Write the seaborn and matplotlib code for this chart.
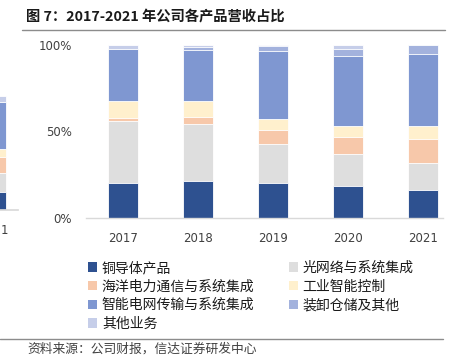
import numpy as np
import pandas as pd
import matplotlib
matplotlib.use("Agg")
import matplotlib.pyplot as plt
import seaborn as sns
from matplotlib.patches import Patch
from matplotlib.lines import Line2D

# ---------------- data ----------------
years = ["2017", "2018", "2019", "2020", "2021"]
series_names = ["铜导体产品", "光网络与系统集成", "海洋电力通信与系统集成", "工业智能控制",
                "智能电网传输与系统集成", "装卸仓储及其他", "其他业务"]
copper = [20.0, 21.4, 20.0, 18.3, 16.4]
optical = [36.0, 33.0, 22.9, 18.7, 15.4]
marine = [1.7, 3.7, 7.7, 10.0, 13.9]
industrial = [9.6, 9.4, 6.5, 5.8, 7.3]
smartgrid = [30.2, 29.7, 39.0, 40.6, 41.6]
handling = [0.0, 1.5, 2.9, 4.4, 5.2]
others = [2.5, 1.3, 1.0, 2.2, 0.2]

# fragment of neighbouring chart (cut off on the left; only "1" of its label shows)
frag_year = ["1"]
frag_vals = [16.2, 16.5, 13.5, 7.7, 40.8, 0.0, 5.3]

colors = ["#2E5190", "#DEDEDE", "#F7C8AA", "#FFF0CD", "#7F97D1", "#A3B2DD", "#C6CEE9"]

title = "图 7：2017-2021 年公司各产品营收占比"
source = "资料来源：公司财报，信达证券研发中心"
yticks = [0, 50, 100]
ytick_labels = ["0%", "50%", "100%"]

# ---------------- style ----------------
sns.set_theme(style="white")
plt.rcParams["font.family"] = ["Noto Sans CJK SC", "DejaVu Sans"]

W, H = 456, 356
fig = plt.figure(figsize=(W / 100, H / 100), dpi=100)

def fx(px):
    return px / W

def fy(py):
    return 1 - py / H

series = [copper, optical, marine, industrial, smartgrid, handling, others]
df = pd.DataFrame({name: vals for name, vals in zip(series_names, series)})
df["year"] = years
cum = df[series_names].cumsum(axis=1)

# ---------------- main axes ----------------
ax = fig.add_axes([fx(86), fy(218), fx(443 - 86), (218 - 44.7) / H])
for i in range(len(series_names) - 1, -1, -1):
    name = series_names[i]
    sns.barplot(x=df["year"], y=cum[name], ax=ax, color=colors[i],
                width=0.4, saturation=1, edgecolor="white", linewidth=0.6)
ax.set_xlim(-0.49, 4.27)
ax.set_ylim(0, 100)
ax.set_yticks(yticks)
ax.set_yticklabels(ytick_labels)
ax.set_xlabel("")
ax.set_ylabel("")
for s in ["top", "left", "right"]:
    ax.spines[s].set_visible(False)
ax.spines["bottom"].set_color("#D9D9D9")
ax.spines["bottom"].set_linewidth(1)
ax.tick_params(axis="both", length=0, labelsize=8.5, labelcolor="#404040")
ax.tick_params(axis="x", pad=10)
ax.tick_params(axis="y", pad=10)
for lab in ax.get_xticklabels() + ax.get_yticklabels():
    lab.set_fontfamily(["DejaVu Sans"])

# ---------------- fragment axes on the left ----------------
fdf = pd.DataFrame({"year": frag_year})
fcum = np.cumsum(frag_vals)
axf = fig.add_axes([fx(-60), fy(210), fx(78), (210 - 96) / H])
for i in range(len(frag_vals) - 1, -1, -1):
    sns.barplot(x=fdf["year"], y=[fcum[i]], ax=axf, color=colors[i],
                width=0.26, saturation=1, edgecolor="white", linewidth=0.6)
axf.set_xlim(-0.718, 0.282)
axf.set_ylim(0, 100)
axf.set_yticks([])
axf.set_xlabel("")
axf.set_ylabel("")
for s in ["top", "left", "right"]:
    axf.spines[s].set_visible(False)
axf.spines["bottom"].set_color("#D9D9D9")
axf.tick_params(axis="x", length=0, labelsize=8.5, labelcolor="#404040", pad=10)
for lab in axf.get_xticklabels():
    lab.set_fontfamily(["DejaVu Sans"])
    lab.set_horizontalalignment("left")
    lab.set_x(0)
from matplotlib.transforms import ScaledTranslation
for lab in axf.get_xticklabels():
    lab.set_transform(lab.get_transform() + ScaledTranslation(5 / 100, 0, fig.dpi_scale_trans))

# ---------------- title / lines / source ----------------
fig.text(fx(26), fy(17), title, fontsize=10.3, fontweight="bold", color="#1a1a1a",
         va="center", ha="left")
fig.add_artist(Line2D([fx(22), fx(445)], [fy(29.5), fy(29.5)], color="#8C8C8C", lw=1))
fig.add_artist(Line2D([fx(0), fx(443)], [fy(339), fy(339)], color="#8C8C8C", lw=1))
fig.text(fx(27), fy(349), source, fontsize=9.2, color="#404040", style="italic",
         va="center", ha="left")

# ---------------- legend ----------------
order = [0, 2, 4, 6, 1, 3, 5]
handles = [Patch(facecolor=colors[i], edgecolor="none") for i in order]
labels = [series_names[i] for i in order]
fig.legend(handles, labels, ncol=2, frameon=False, loc="upper left",
           bbox_to_anchor=(fx(88), fy(261)), borderpad=0, borderaxespad=0,
           fontsize=10, handlelength=0.65, handleheight=0.65, handletextpad=0.35,
           labelspacing=0.33, columnspacing=2.45, labelcolor="#1a1a1a")

fig.savefig("out.png", dpi=100)
